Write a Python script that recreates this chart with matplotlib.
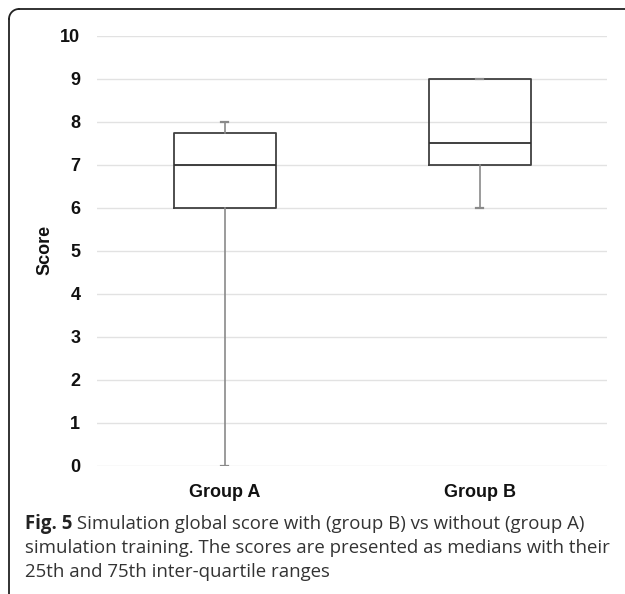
import matplotlib
matplotlib.use("Agg")
import matplotlib.pyplot as plt
from matplotlib.lines import Line2D
import numpy as np

groups = ["Group A", "Group B"]
whisker_low = [0, 6]
q1 = [6, 7]
median = [7, 7.5]
q3 = [7.75, 9]
whisker_high = [8, 9]
yticks = [0, 1, 2, 3, 4, 5, 6, 7, 8, 9, 10]

W, H = 625, 594
fig = plt.figure(figsize=(W / 100, H / 100), dpi=100)

# axes placement in pixels
x0, x1 = 97, 607
ytop, ybot = 35.7, 466
ax = fig.add_axes([x0 / W, (H - ybot) / H, (x1 - x0) / W, (ybot - ytop) / H])

stats = []
for i, g in enumerate(groups):
    stats.append(dict(label=g, whislo=whisker_low[i], q1=q1[i], med=median[i],
                      q3=q3[i], whishi=whisker_high[i], fliers=[]))

ax.bxp(stats, positions=[0, 1], widths=0.4, capwidths=0.028, showfliers=False,
       patch_artist=False,
       boxprops=dict(color="#404040", linewidth=1.3),
       medianprops=dict(color="#303030", linewidth=1.3),
       whiskerprops=dict(color="#8a8a8a", linewidth=1.2),
       capprops=dict(color="#8a8a8a", linewidth=1.6),
       zorder=3)

ax.set_xlim(-0.5, 1.5)
ax.set_ylim(0, 10)
ax.set_yticks(yticks)
ax.yaxis.grid(True, color="#e2e2e2", linewidth=1.0, zorder=0)
ax.set_axisbelow(True)
for s in ax.spines.values():
    s.set_visible(False)
ax.tick_params(axis="both", length=0)
ax.tick_params(axis="y", pad=12)
ax.tick_params(axis="x", pad=13)
ax.set_xticks([0, 1])
ax.set_xticklabels(groups)
for lab in ax.get_yticklabels() + ax.get_xticklabels():
    lab.set_fontfamily("Liberation Sans")
    lab.set_fontweight("bold")
    lab.set_fontsize(13)
    lab.set_color("#111111")

fig.text(45 / W, 1 - 250 / H, "Score", rotation=90, ha="center", va="center",
         fontfamily="Liberation Sans", fontweight="bold", fontsize=13, color="#111111")

# border (rounded top-left corner, open right and bottom)
bx, by = 9, 9
r = 10
fig.add_artist(Line2D([bx / W, bx / W], [1 - (by + r) / H, 0], transform=fig.transFigure,
                      color="#222222", linewidth=1.3))
fig.add_artist(Line2D([(bx + r) / W, 1], [1 - by / H, 1 - by / H], transform=fig.transFigure,
                      color="#222222", linewidth=1.3))
th = np.linspace(np.pi / 2, np.pi, 20)
cx, cy = bx + r, by + r
fig.add_artist(Line2D((cx + r * np.cos(th)) / W, 1 - (cy - r * np.sin(th)) / H,
                      transform=fig.transFigure, color="#222222", linewidth=1.3))

# caption
cap_font = "Open Sans"
cap_size = 11.0
lines = [
    ("Fig. 5", " Simulation global score with (group B) vs without (group A)"),
    (None, "simulation training. The scores are presented as medians with their"),
    (None, "25th and 75th inter-quartile ranges"),
]
baselines = [529, 553, 577]
fig.canvas.draw()
renderer = fig.canvas.get_renderer()
# fit font size so that the widest line spans the target width
target_w = 612 - 25
widths = []
for bold, rest in lines:
    w = 0
    if bold:
        t = fig.text(0, 0, bold, fontfamily=cap_font, fontweight="bold", fontsize=cap_size)
        w += t.get_window_extent(renderer).width
        t.remove()
    t = fig.text(0, 0, rest, fontfamily=cap_font, fontsize=cap_size)
    w += t.get_window_extent(renderer).width
    t.remove()
    widths.append(w)
cap_size = cap_size * target_w / max(widths)

for (bold, rest), yb in zip(lines, baselines):
    xpos = 25
    if bold:
        tb = fig.text(xpos / W, 1 - yb / H, bold, fontfamily=cap_font, fontweight="bold",
                      fontsize=cap_size, va="baseline", color="#222222")
        xpos += tb.get_window_extent(renderer).width
    fig.text(xpos / W, 1 - yb / H, rest, fontfamily=cap_font, fontsize=cap_size,
             va="baseline", color="#333333")

fig.savefig("out.png", dpi=100)
